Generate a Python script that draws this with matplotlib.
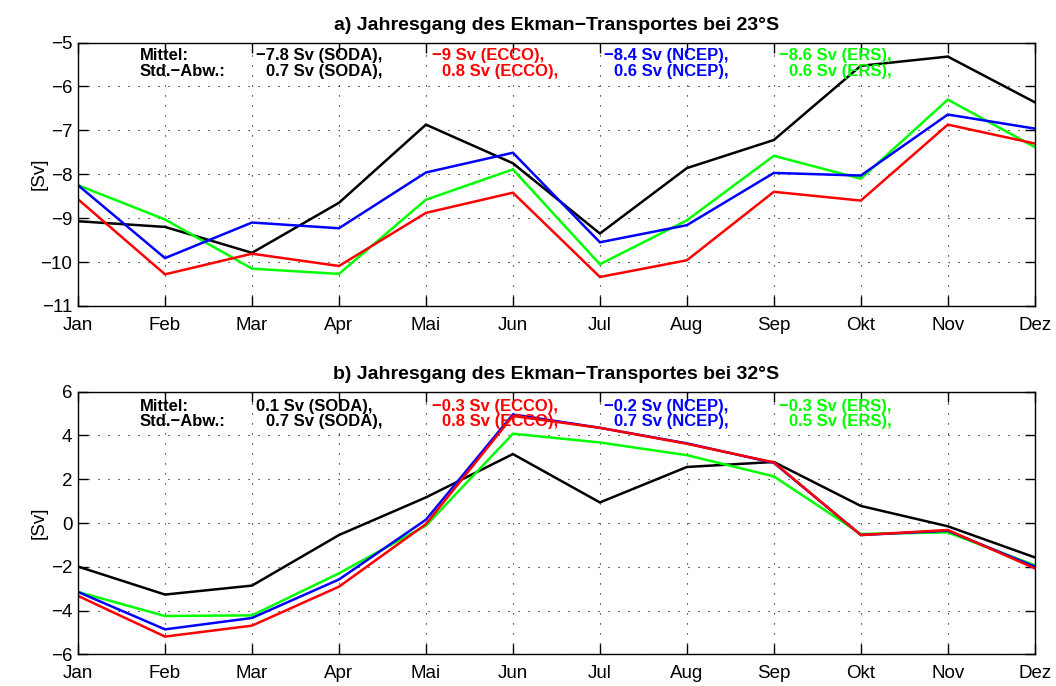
import matplotlib
matplotlib.use("Agg")
import matplotlib.pyplot as plt
import numpy as np

plt.rcParams['font.family'] = ['Liberation Sans', 'DejaVu Sans']

months = ['Jan', 'Feb', 'Mar', 'Apr', 'Mai', 'Jun', 'Jul', 'Aug', 'Sep', 'Okt', 'Nov', 'Dez']

# Panel a: 23°S
soda_a = [-9.07, -9.20, -9.79, -8.65, -6.87, -7.75, -9.35, -7.86, -7.22, -5.53, -5.32, -6.36]
ecco_a = [-8.57, -10.28, -9.81, -10.09, -8.88, -8.42, -10.34, -9.96, -8.40, -8.60, -6.87, -7.30]
ncep_a = [-8.25, -9.91, -9.10, -9.23, -7.96, -7.51, -9.55, -9.16, -7.97, -8.03, -6.64, -6.96]
ers_a = [-8.25, -9.03, -10.15, -10.27, -8.58, -7.89, -10.05, -9.05, -7.58, -8.10, -6.30, -7.38]

# Panel b: 32°S
soda_b = [-1.99, -3.27, -2.86, -0.55, 1.17, 3.15, 0.94, 2.56, 2.79, 0.78, -0.15, -1.57]
ecco_b = [-3.33, -5.19, -4.69, -2.91, -0.05, 4.89, 4.35, 3.62, 2.77, -0.55, -0.32, -2.07]
ncep_b = [-3.15, -4.86, -4.34, -2.58, 0.15, 4.96, 4.35, 3.64, 2.75, -0.55, -0.35, -1.99]
ers_b = [-3.15, -4.25, -4.22, -2.30, -0.12, 4.08, 3.68, 3.10, 2.13, -0.50, -0.43, -1.93]

names = ['SODA', 'ECCO', 'NCEP', 'ERS']
colors = {'SODA': 'k', 'ECCO': '#ff0000', 'NCEP': '#0000ff', 'ERS': '#00ff00'}

mean_a = ['−7.8', '−9', '−8.4', '−8.6']
std_a = ['0.7', '0.8', '0.6', '0.6']
mean_b = ['0.1', '−0.3', '−0.2', '−0.3']
std_b = ['0.7', '0.8', '0.7', '0.5']

titles = ['a) Jahresgang des Ekman−Transportes bei 23°S',
          'b) Jahresgang des Ekman−Transportes bei 32°S']

fig = plt.figure(figsize=(10.56, 6.86), dpi=100)
ax_a = fig.add_axes([0.0739, 0.554, 0.906, 0.384])
ax_b = fig.add_axes([0.0739, 0.0462, 0.906, 0.3828])

x = np.arange(1, 13)

panels = [
    (ax_a, {'SODA': soda_a, 'ECCO': ecco_a, 'NCEP': ncep_a, 'ERS': ers_a},
     (-11, -5), np.arange(-11, -4, 1), mean_a, std_a, (-5.30, -5.66)),
    (ax_b, {'SODA': soda_b, 'ECCO': ecco_b, 'NCEP': ncep_b, 'ERS': ers_b},
     (-6, 6), np.arange(-6, 7, 2), mean_b, std_b, (5.34, 4.63)),
]

col_x = [3.05, 5.07, 7.05, 9.06]
fs_ann = 12

for i, (ax, data, ylim, yticks, means, stds, ytxt) in enumerate(panels):
    for nm in ['SODA', 'ERS', 'NCEP', 'ECCO']:
        ax.plot(x, data[nm], color=colors[nm], lw=1.8, solid_joinstyle='miter')
    ax.set_xlim(1, 12)
    ax.set_ylim(*ylim)
    ax.set_xticks(x)
    ax.set_xticklabels(months)
    ax.set_yticks(yticks)
    ax.tick_params(direction='in', top=True, right=True, labelsize=13.5,
                   length=7, width=1)
    ax.tick_params(axis='x', pad=8)
    ax.tick_params(axis='y', pad=4)
    ax.grid(True, color='k', linestyle=(0, (1, 8)), linewidth=0.8)
    for s in ax.spines.values():
        s.set_linewidth(1.0)
    ax.set_ylabel('[Sv]', fontsize=13.5)
    ax.yaxis.set_label_coords(-0.032, 0.5)
    ax.set_title(titles[i], fontsize=14, fontweight='bold', pad=9)
    ax.text(1.71, ytxt[0], 'Mittel:', fontsize=fs_ann, fontweight='bold',
            va='center', ha='left')
    ax.text(1.71, ytxt[1], 'Std.−Abw.:', fontsize=fs_ann, fontweight='bold',
            va='center', ha='left')
    for j, nm in enumerate(names):
        ax.text(col_x[j], ytxt[0], f'{means[j]} Sv ({nm}),', fontsize=fs_ann,
                fontweight='bold', va='center', ha='left', color=colors[nm])
        ax.text(col_x[j] + 0.115, ytxt[1], f'{stds[j]} Sv ({nm}),', fontsize=fs_ann,
                fontweight='bold', va='center', ha='left', color=colors[nm])

fig.savefig('out.png', dpi=100)
